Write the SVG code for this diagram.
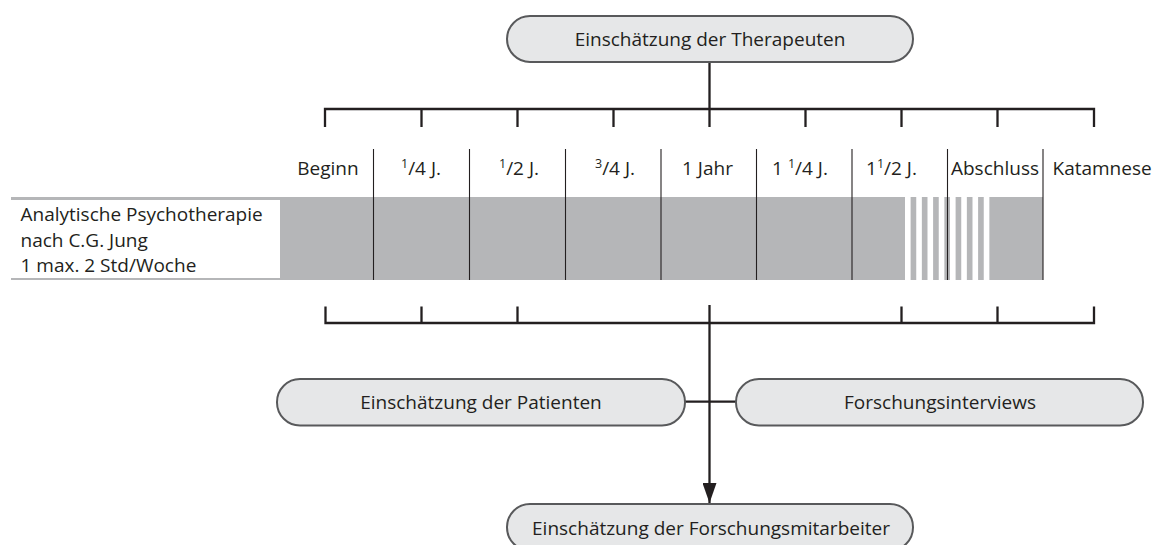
<svg xmlns="http://www.w3.org/2000/svg" width="1158" height="545" viewBox="0 0 1158 545">
<style>
text{font-family:"Open Sans","Noto Sans","Liberation Sans",sans-serif;font-size:19px;fill:#231f20}
.pill{fill:#e6e7e8;stroke:#58595b;stroke-width:2}
.br{stroke:#231f20;stroke-width:2.3;fill:none}
.dv{stroke:#231f20;stroke-width:1.1}
.mid{text-anchor:middle}
.sup{font-size:12.5px}
</style>
<defs>
<marker id="ah" markerWidth="20" markerHeight="14" refX="20" refY="7" orient="auto" markerUnits="userSpaceOnUse" viewBox="0 0 20 14">
<path d="M0,0 L20,7 L0,14 Z" fill="#231f20"/>
</marker>
</defs>
<rect width="1158" height="545" fill="#fff"/>

<g id="band">
<rect x="11" y="197" width="1032" height="83" fill="#b5b6b8"/>
<rect x="11" y="200" width="269" height="78" fill="#fff"/>
<g fill="#fff">
<rect x="905" y="197" width="5.6" height="83"/>
<rect x="916.25" y="197" width="5.6" height="83"/>
<rect x="927.5" y="197" width="5.6" height="83"/>
<rect x="938.75" y="197" width="5.6" height="83"/>
<rect x="950" y="197" width="5.6" height="83"/>
<rect x="961.25" y="197" width="5.6" height="83"/>
<rect x="972.5" y="197" width="5.6" height="83"/>
<rect x="983.75" y="197" width="5.6" height="83"/>
</g>
<text x="20.5" y="221">Analytische Psychotherapie</text>
<text x="20.5" y="246.5">nach C.G. Jung</text>
<text x="20.5" y="272">1 max. 2 Std/Woche</text>
</g>

<g id="timeline">
<g class="dv">
<line x1="373.5" y1="149" x2="373.5" y2="280"/>
<line x1="469.5" y1="149" x2="469.5" y2="280"/>
<line x1="565.5" y1="149" x2="565.5" y2="280"/>
<line x1="661" y1="149" x2="661" y2="280"/>
<line x1="756.5" y1="149" x2="756.5" y2="280"/>
<line x1="852" y1="149" x2="852" y2="280"/>
<line x1="947.5" y1="149" x2="947.5" y2="280"/>
<line x1="1043" y1="149" x2="1043" y2="280"/>
</g>
<text class="mid" x="328" y="175">Beginn</text>
<text class="mid" x="421" y="175"><tspan class="sup" dy="-7">1</tspan><tspan dy="7">/4 J.</tspan></text>
<text class="mid" x="519" y="175"><tspan class="sup" dy="-7">1</tspan><tspan dy="7">/2 J.</tspan></text>
<text class="mid" x="615" y="175"><tspan class="sup" dy="-7">3</tspan><tspan dy="7">/4 J.</tspan></text>
<text class="mid" x="707.5" y="175">1 Jahr</text>
<text class="mid" x="800" y="175">1 <tspan class="sup" dy="-7">1</tspan><tspan dy="7">/4 J.</tspan></text>
<text class="mid" x="891.5" y="175">1<tspan class="sup" dy="-7">1</tspan><tspan dy="7">/2 J.</tspan></text>
<text class="mid" x="995" y="175">Abschluss</text>
<text x="1052.5" y="175">Katamnese</text>
</g>

<g id="connectors">
<path class="br" d="M709.5,62 V109 M325,127 V109 H1094 V127 M421.5,109 V127 M517.5,109 V127 M613.5,109 V127 M709.5,109 V127 M805.5,109 V127 M901.5,109 V127 M997.5,109 V127"/>
<path class="br" d="M325.5,306.5 V323 H1094 V306.5 M421.5,306.5 V323 M517.5,306.5 V323 M901.5,306.5 V323 M997.5,306.5 V323"/>
<path class="br" d="M685,401.7 H736"/>
<line class="br" x1="709.5" y1="305" x2="709.5" y2="503" marker-end="url(#ah)"/>
</g>

<g id="node-therapeuten">
<rect class="pill" x="507" y="16" width="406" height="46" rx="23"/>
<text class="mid" x="710" y="46">Einschätzung der Therapeuten</text>
</g>
<g id="node-patienten">
<rect class="pill" x="277" y="379" width="408" height="46.5" rx="23"/>
<text class="mid" x="481" y="409.3">Einschätzung der Patienten</text>
</g>
<g id="node-interviews">
<rect class="pill" x="736" y="379" width="407" height="46.5" rx="23"/>
<text class="mid" x="940" y="409.3">Forschungsinterviews</text>
</g>
<g id="node-mitarbeiter">
<rect class="pill" x="507" y="504" width="406" height="46.5" rx="23"/>
<text class="mid" x="711" y="534.5">Einschätzung der Forschungsmitarbeiter</text>
</g>
</svg>
